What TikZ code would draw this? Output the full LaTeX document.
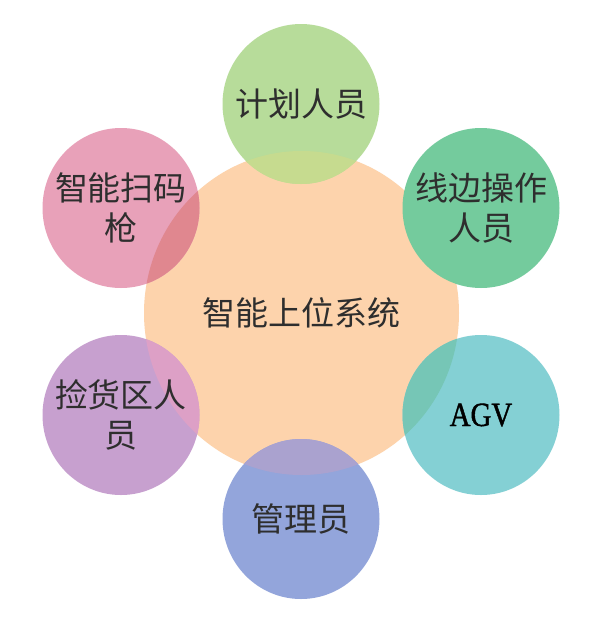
\documentclass[tikz,border=0pt]{standalone}
\usepackage{fontspec}
\newfontfamily\cjk{Noto Sans CJK SC}
\newfontfamily\lat[FakeStretch=0.85,FakeBold=1.2]{Liberation Serif}
\definecolor{peach}{HTML}{FDD3AC}
\definecolor{cgreen}{HTML}{B7DC9A}
\definecolor{cgreenov}{HTML}{C6DB8F}
\definecolor{cmint}{HTML}{74CB9D}
\definecolor{cteal}{HTML}{84D0D4}
\definecolor{ctealov}{HTML}{76C6B6}
\definecolor{cblue}{HTML}{93A5DB}
\definecolor{cblueov}{HTML}{AAA2CF}
\definecolor{cpurple}{HTML}{C7A0CF}
\definecolor{cpurpleov}{HTML}{DDA0C6}
\definecolor{cpink}{HTML}{E8A1B9}
\definecolor{cpinkov}{HTML}{E0878F}
\definecolor{txt}{HTML}{2E2E2E}
\begin{document}
\begin{tikzpicture}[x=1pt,y=1pt]
\tikzset{
  label/.style={inner sep=0pt, align=center, text=txt,
    font=\cjk\fontsize{33}{40}\selectfont},
  hubsize/.style={x radius=157.5, y radius=162},
  satsize/.style={x radius=78.5, y radius=80}
}
\useasboundingbox (0,0) rectangle (602,-638);
\fill[white] (0,0) rectangle (602,-638);
% positions
\coordinate (chub) at (301.5,-313);
\coordinate (ctop) at (301,-104);
\coordinate (cur)  at (481,-208);
\coordinate (clr)  at (481,-415);
\coordinate (cbot) at (301,-519);
\coordinate (cll)  at (121,-415);
\coordinate (cul)  at (121,-208);
% discs
\fill[peach]   (chub) ellipse [hubsize];
\fill[cgreen]  (ctop) ellipse [satsize];
\fill[cmint]   (cur)  ellipse [satsize];
\fill[cteal]   (clr)  ellipse [satsize];
\fill[cblue]   (cbot) ellipse [satsize];
\fill[cpurple] (cll)  ellipse [satsize];
\fill[cpink]   (cul)  ellipse [satsize];
% overlaps with the hub
\begin{scope}
  \clip (chub) ellipse [hubsize];
  \fill[cgreenov]  (ctop) ellipse [satsize];
  \fill[ctealov]   (clr)  ellipse [satsize];
  \fill[cblueov]   (cbot) ellipse [satsize];
  \fill[cpurpleov] (cll)  ellipse [satsize];
  \fill[cpinkov]   (cul)  ellipse [satsize];
\end{scope}
% texts
\node[label] (hub) at (chub) {智能上位系统};
\node[label] (top) at (ctop) {计划人员};
\node[label] (ur)  at (cur)  {线边操作\\人员};
\node[label, text=black, font=\lat\fontsize{34}{40}\selectfont] (lr) at (clr) {AGV};
\node[label] (bot) at (cbot) {管理员};
\node[label] (ll)  at (cll)  {捡货区人\\员};
\node[label] (ul)  at (cul)  {智能扫码\\枪};
\end{tikzpicture}
\end{document}
